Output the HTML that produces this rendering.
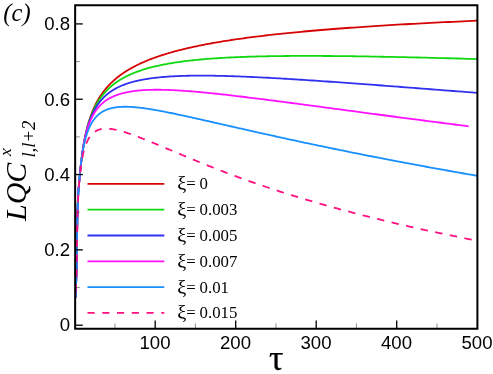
<!DOCTYPE html>
<html><head><meta charset="utf-8"><title>chart</title>
<style>
html,body{margin:0;padding:0;background:#fff;}
body{width:493px;height:374px;overflow:hidden;font-family:"Liberation Sans",sans-serif;}
svg{display:block;}
.t{font-family:"Liberation Sans",sans-serif;font-size:18.6px;fill:#000;}
.s{font-family:"Liberation Serif",serif;fill:#000;}
</style></head><body>
<svg width="493" height="374" viewBox="0 0 493 374">
<rect width="493" height="374" fill="#fff"/>
<g>
<defs><filter id="gs" x="0" y="0" width="493" height="374" filterUnits="userSpaceOnUse" color-interpolation-filters="sRGB"><feColorMatrix type="saturate" values="0"/></filter><clipPath id="cp"><rect x="75.15" y="5.25" width="402.25" height="323.5"/></clipPath></defs>
<g fill="none" stroke-width="1.8" stroke-linejoin="round" clip-path="url(#cp)">
<path d="M75.60,297.53 L75.61,296.82 L75.62,296.15 L75.63,295.51 L75.65,294.90 L75.66,294.32 L75.67,293.77 L75.68,293.25 L75.69,292.75 L75.70,292.28 L75.72,291.82 L75.73,291.39 L75.74,290.98 L75.76,290.59 L75.77,290.21 L75.78,289.85 L75.79,289.51 L75.81,289.17 L75.82,288.85 L75.84,288.54 L75.85,288.23 L75.86,287.94 L75.88,287.64 L75.89,287.35 L75.91,287.07 L75.92,286.78 L75.94,286.50 L75.95,286.21 L75.97,285.92 L75.98,285.63 L76.00,285.32 L76.01,285.02 L76.03,284.70 L76.05,284.37 L76.06,284.03 L76.08,283.68 L76.10,283.31 L76.12,282.93 L76.13,282.53 L76.15,282.11 L76.17,281.67 L76.19,281.20 L76.20,280.72 L76.22,280.21 L76.24,279.67 L76.26,279.11 L76.28,278.52 L76.30,277.89 L76.32,277.24 L76.34,276.55 L76.36,275.83 L76.38,275.07 L76.40,274.27 L76.42,273.44 L76.44,272.56 L76.46,271.64 L76.49,270.68 L76.51,269.68 L76.53,268.63 L76.55,267.53 L76.57,266.38 L76.60,265.18 L76.62,263.93 L76.64,262.63 L76.67,261.27 L76.69,259.85 L76.72,258.38 L76.74,256.85 L76.77,255.28 L76.79,253.65 L76.82,251.99 L76.84,250.29 L76.87,248.55 L76.90,246.79 L76.92,245.01 L76.95,243.20 L76.98,241.38 L77.01,239.55 L77.04,237.72 L77.06,235.88 L77.09,234.05 L77.12,232.23 L77.15,230.41 L77.18,228.62 L77.21,226.85 L77.25,225.10 L77.28,223.38 L77.31,221.70 L77.34,220.06 L77.37,218.47 L77.41,216.92 L77.44,215.43 L77.47,213.99 L77.51,212.60 L77.54,211.26 L77.58,209.96 L77.61,208.71 L77.65,207.51 L77.68,206.34 L77.72,205.22 L77.76,204.14 L77.80,203.10 L77.83,202.09 L77.87,201.12 L77.91,200.18 L77.95,199.28 L77.99,198.40 L78.03,197.56 L78.07,196.74 L78.11,195.95 L78.16,195.19 L78.20,194.45 L78.24,193.73 L78.28,193.04 L78.33,192.36 L78.37,191.70 L78.42,191.06 L78.46,190.43 L78.51,189.81 L78.56,189.21 L78.60,188.62 L78.65,188.04 L78.70,187.46 L78.75,186.89 L78.80,186.33 L78.85,185.77 L78.90,185.21 L78.95,184.65 L79.01,184.09 L79.06,183.53 L79.11,182.96 L79.17,182.39 L79.22,181.81 L79.28,181.22 L79.33,180.63 L79.39,180.03 L79.45,179.42 L79.51,178.81 L79.57,178.19 L79.63,177.56 L79.69,176.93 L79.75,176.29 L79.81,175.64 L79.87,174.99 L79.94,174.34 L80.00,173.68 L80.07,173.02 L80.13,172.35 L80.20,171.68 L80.27,171.00 L80.34,170.33 L80.40,169.64 L80.47,168.96 L80.55,168.27 L80.62,167.59 L80.69,166.89 L80.76,166.20 L80.84,165.51 L80.91,164.81 L80.99,164.11 L81.07,163.42 L81.15,162.72 L81.23,162.02 L81.31,161.32 L81.39,160.62 L81.47,159.93 L81.55,159.23 L81.64,158.53 L81.72,157.84 L81.81,157.15 L81.90,156.45 L81.99,155.77 L82.08,155.08 L82.17,154.39 L82.26,153.71 L82.35,153.03 L82.44,152.35 L82.54,151.68 L82.64,151.00 L82.73,150.33 L82.83,149.67 L82.93,149.00 L83.03,148.34 L83.14,147.67 L83.24,147.01 L83.35,146.36 L83.45,145.70 L83.56,145.05 L83.67,144.40 L83.78,143.75 L83.89,143.10 L84.00,142.46 L84.12,141.82 L84.23,141.18 L84.35,140.54 L84.47,139.91 L84.59,139.27 L84.71,138.64 L84.84,138.01 L84.96,137.39 L85.09,136.76 L85.21,136.14 L85.34,135.52 L85.48,134.90 L85.61,134.29 L85.74,133.67 L85.88,133.06 L86.02,132.45 L86.15,131.85 L86.30,131.24 L86.44,130.64 L86.58,130.04 L86.73,129.44 L86.88,128.84 L87.03,128.25 L87.18,127.65 L87.33,127.06 L87.49,126.47 L87.64,125.89 L87.80,125.30 L87.97,124.72 L88.13,124.14 L88.29,123.56 L88.46,122.98 L88.63,122.41 L88.80,121.84 L88.98,121.27 L89.15,120.70 L89.33,120.13 L89.51,119.57 L89.69,119.00 L89.88,118.44 L90.06,117.88 L90.25,117.33 L90.44,116.77 L90.64,116.22 L90.83,115.67 L91.03,115.12 L91.23,114.57 L91.44,114.03 L91.64,113.48 L91.85,112.94 L92.06,112.40 L92.27,111.86 L92.49,111.33 L92.71,110.79 L92.93,110.26 L93.16,109.73 L93.38,109.20 L93.61,108.68 L93.84,108.15 L94.08,107.63 L94.32,107.11 L94.56,106.59 L94.80,106.07 L95.05,105.55 L95.30,105.04 L95.56,104.53 L95.81,104.02 L96.07,103.51 L96.34,103.00 L96.60,102.50 L96.87,101.99 L97.14,101.49 L97.42,100.99 L97.70,100.49 L97.98,100.00 L98.27,99.50 L98.56,99.01 L98.85,98.52 L99.15,98.03 L99.45,97.54 L99.76,97.05 L100.06,96.57 L100.38,96.09 L100.69,95.61 L101.01,95.13 L101.34,94.65 L101.66,94.17 L101.99,93.70 L102.33,93.22 L102.67,92.75 L103.01,92.28 L103.36,91.82 L103.72,91.35 L104.07,90.88 L104.43,90.42 L104.80,89.96 L105.17,89.50 L105.55,89.04 L105.92,88.58 L106.31,88.13 L106.70,87.68 L107.09,87.22 L107.49,86.77 L107.89,86.32 L108.30,85.88 L108.72,85.43 L109.13,84.99 L109.56,84.54 L109.99,84.10 L110.42,83.66 L110.86,83.22 L111.31,82.79 L111.76,82.35 L112.21,81.92 L112.67,81.48 L113.14,81.05 L113.61,80.62 L114.09,80.19 L114.58,79.77 L115.07,79.34 L115.56,78.92 L116.07,78.50 L116.58,78.08 L117.09,77.66 L117.61,77.24 L118.14,76.82 L118.68,76.41 L119.22,75.99 L119.76,75.58 L120.32,75.17 L120.88,74.76 L121.45,74.35 L122.02,73.94 L122.61,73.54 L123.20,73.13 L123.79,72.73 L124.40,72.33 L125.01,71.93 L125.63,71.53 L126.25,71.13 L126.89,70.73 L127.53,70.34 L128.18,69.94 L128.84,69.55 L129.50,69.16 L130.18,68.77 L130.86,68.38 L131.55,67.99 L132.25,67.61 L132.96,67.22 L133.68,66.84 L134.40,66.46 L135.14,66.08 L135.88,65.70 L136.63,65.32 L137.40,64.94 L138.17,64.56 L138.95,64.19 L139.74,63.81 L140.54,63.44 L141.35,63.07 L142.17,62.70 L143.00,62.33 L143.84,61.96 L144.69,61.60 L145.55,61.23 L146.42,60.87 L147.31,60.50 L148.20,60.14 L149.10,59.78 L150.02,59.42 L150.95,59.07 L151.89,58.71 L152.83,58.35 L153.80,58.00 L154.77,57.65 L155.75,57.29 L156.75,56.94 L157.76,56.59 L158.78,56.24 L159.82,55.90 L160.87,55.55 L161.93,55.21 L163.00,54.86 L164.09,54.52 L165.19,54.18 L166.30,53.84 L167.43,53.50 L168.57,53.16 L169.72,52.83 L170.89,52.49 L172.07,52.16 L173.27,51.82 L174.49,51.49 L175.71,51.16 L176.96,50.83 L178.21,50.50 L179.49,50.18 L180.78,49.85 L182.08,49.52 L183.40,49.20 L184.74,48.88 L186.10,48.56 L187.47,48.24 L188.85,47.92 L190.26,47.60 L191.68,47.28 L193.12,46.96 L194.58,46.65 L196.05,46.34 L197.55,46.02 L199.06,45.71 L200.59,45.40 L202.14,45.09 L203.70,44.78 L205.29,44.48 L206.90,44.17 L208.53,43.87 L210.17,43.56 L211.84,43.26 L213.53,42.96 L215.23,42.66 L216.96,42.36 L218.71,42.06 L220.49,41.77 L222.28,41.47 L224.10,41.17 L225.93,40.88 L227.80,40.59 L229.68,40.30 L231.59,40.01 L233.52,39.72 L235.47,39.43 L237.45,39.14 L239.45,38.85 L241.48,38.57 L243.53,38.28 L245.61,38.00 L247.71,37.72 L249.84,37.44 L252.00,37.16 L254.18,36.88 L256.39,36.60 L258.62,36.33 L260.88,36.05 L263.17,35.78 L265.49,35.50 L267.84,35.23 L270.22,34.96 L272.62,34.69 L275.06,34.42 L277.52,34.15 L280.02,33.88 L282.55,33.62 L285.10,33.35 L287.69,33.09 L290.31,32.82 L292.97,32.56 L295.65,32.30 L298.37,32.04 L301.12,31.78 L303.91,31.52 L306.73,31.27 L309.59,31.01 L312.48,30.75 L315.40,30.50 L318.36,30.25 L321.36,30.00 L324.40,29.74 L327.47,29.49 L330.58,29.24 L333.73,29.00 L336.91,28.75 L340.14,28.50 L343.41,28.26 L346.71,28.01 L350.06,27.77 L353.45,27.53 L356.88,27.29 L360.35,27.05 L363.87,26.81 L367.42,26.57 L371.03,26.33 L374.67,26.10 L378.36,25.86 L382.10,25.63 L385.88,25.39 L389.71,25.16 L393.59,24.93 L397.51,24.70 L401.48,24.47 L405.50,24.24 L409.57,24.01 L413.69,23.78 L417.87,23.56 L422.09,23.33 L426.36,23.11 L430.69,22.89 L435.07,22.66 L439.50,22.44 L443.99,22.22 L448.54,22.00 L453.14,21.78 L457.79,21.57 L462.51,21.35 L467.28,21.13 L472.11,20.92 L477.00,20.71" stroke="#d60404"/>
<path d="M75.60,297.54 L75.61,296.78 L75.62,296.06 L75.63,295.37 L75.65,294.72 L75.66,294.10 L75.67,293.51 L75.68,292.96 L75.69,292.43 L75.70,291.93 L75.72,291.45 L75.73,291.00 L75.74,290.57 L75.76,290.17 L75.77,289.78 L75.78,289.41 L75.79,289.05 L75.81,288.71 L75.82,288.39 L75.84,288.07 L75.85,287.77 L75.86,287.47 L75.88,287.19 L75.89,286.90 L75.91,286.63 L75.92,286.35 L75.94,286.08 L75.95,285.80 L75.97,285.53 L75.98,285.25 L76.00,284.96 L76.01,284.67 L76.03,284.37 L76.05,284.06 L76.06,283.74 L76.08,283.41 L76.10,283.07 L76.12,282.70 L76.13,282.33 L76.15,281.93 L76.17,281.51 L76.19,281.07 L76.20,280.61 L76.22,280.12 L76.24,279.61 L76.26,279.07 L76.28,278.49 L76.30,277.89 L76.32,277.26 L76.34,276.59 L76.36,275.89 L76.38,275.15 L76.40,274.37 L76.42,273.55 L76.44,272.69 L76.46,271.79 L76.49,270.84 L76.51,269.85 L76.53,268.81 L76.55,267.71 L76.57,266.57 L76.60,265.38 L76.62,264.13 L76.64,262.83 L76.67,261.47 L76.69,260.06 L76.72,258.58 L76.74,257.05 L76.77,255.46 L76.79,253.83 L76.82,252.15 L76.84,250.44 L76.87,248.69 L76.90,246.91 L76.92,245.11 L76.95,243.29 L76.98,241.46 L77.01,239.61 L77.04,237.76 L77.06,235.91 L77.09,234.06 L77.12,232.22 L77.15,230.40 L77.18,228.59 L77.21,226.80 L77.25,225.04 L77.28,223.32 L77.31,221.62 L77.34,219.97 L77.37,218.37 L77.41,216.82 L77.44,215.31 L77.47,213.86 L77.51,212.47 L77.54,211.12 L77.58,209.82 L77.61,208.56 L77.65,207.35 L77.68,206.18 L77.72,205.06 L77.76,203.98 L77.80,202.93 L77.83,201.92 L77.87,200.95 L77.91,200.01 L77.95,199.11 L77.99,198.24 L78.03,197.39 L78.07,196.58 L78.11,195.79 L78.16,195.03 L78.20,194.29 L78.24,193.58 L78.28,192.89 L78.33,192.21 L78.37,191.56 L78.42,190.92 L78.46,190.29 L78.51,189.68 L78.56,189.09 L78.60,188.50 L78.65,187.92 L78.70,187.35 L78.75,186.79 L78.80,186.23 L78.85,185.68 L78.90,185.12 L78.95,184.57 L79.01,184.02 L79.06,183.46 L79.11,182.90 L79.17,182.34 L79.22,181.76 L79.28,181.18 L79.33,180.60 L79.39,180.00 L79.45,179.40 L79.51,178.79 L79.57,178.17 L79.63,177.55 L79.69,176.93 L79.75,176.29 L79.81,175.65 L79.87,175.01 L79.94,174.36 L80.00,173.71 L80.07,173.05 L80.13,172.39 L80.20,171.72 L80.27,171.06 L80.34,170.38 L80.40,169.71 L80.47,169.03 L80.55,168.35 L80.62,167.66 L80.69,166.98 L80.76,166.29 L80.84,165.60 L80.91,164.91 L80.99,164.22 L81.07,163.53 L81.15,162.84 L81.23,162.15 L81.31,161.45 L81.39,160.76 L81.47,160.07 L81.55,159.38 L81.64,158.69 L81.72,158.00 L81.81,157.31 L81.90,156.63 L81.99,155.94 L82.08,155.26 L82.17,154.58 L82.26,153.91 L82.35,153.23 L82.44,152.56 L82.54,151.89 L82.64,151.22 L82.73,150.56 L82.83,149.90 L82.93,149.24 L83.03,148.58 L83.14,147.93 L83.24,147.27 L83.35,146.62 L83.45,145.98 L83.56,145.33 L83.67,144.69 L83.78,144.05 L83.89,143.41 L84.00,142.77 L84.12,142.14 L84.23,141.51 L84.35,140.88 L84.47,140.25 L84.59,139.62 L84.71,139.00 L84.84,138.38 L84.96,137.77 L85.09,137.15 L85.21,136.54 L85.34,135.93 L85.48,135.32 L85.61,134.71 L85.74,134.11 L85.88,133.51 L86.02,132.91 L86.15,132.31 L86.30,131.72 L86.44,131.13 L86.58,130.54 L86.73,129.95 L86.88,129.37 L87.03,128.78 L87.18,128.20 L87.33,127.63 L87.49,127.05 L87.64,126.48 L87.80,125.91 L87.97,125.34 L88.13,124.77 L88.29,124.21 L88.46,123.65 L88.63,123.09 L88.80,122.53 L88.98,121.98 L89.15,121.42 L89.33,120.87 L89.51,120.33 L89.69,119.78 L89.88,119.24 L90.06,118.70 L90.25,118.16 L90.44,117.62 L90.64,117.09 L90.83,116.56 L91.03,116.03 L91.23,115.50 L91.44,114.98 L91.64,114.45 L91.85,113.93 L92.06,113.42 L92.27,112.90 L92.49,112.39 L92.71,111.88 L92.93,111.37 L93.16,110.86 L93.38,110.36 L93.61,109.86 L93.84,109.36 L94.08,108.86 L94.32,108.37 L94.56,107.87 L94.80,107.38 L95.05,106.89 L95.30,106.41 L95.56,105.93 L95.81,105.44 L96.07,104.97 L96.34,104.49 L96.60,104.01 L96.87,103.54 L97.14,103.07 L97.42,102.61 L97.70,102.14 L97.98,101.68 L98.27,101.22 L98.56,100.76 L98.85,100.30 L99.15,99.85 L99.45,99.40 L99.76,98.95 L100.06,98.50 L100.38,98.06 L100.69,97.61 L101.01,97.17 L101.34,96.74 L101.66,96.30 L101.99,95.87 L102.33,95.44 L102.67,95.01 L103.01,94.58 L103.36,94.16 L103.72,93.73 L104.07,93.31 L104.43,92.90 L104.80,92.48 L105.17,92.07 L105.55,91.66 L105.92,91.25 L106.31,90.84 L106.70,90.44 L107.09,90.04 L107.49,89.64 L107.89,89.24 L108.30,88.84 L108.72,88.45 L109.13,88.06 L109.56,87.67 L109.99,87.28 L110.42,86.90 L110.86,86.52 L111.31,86.14 L111.76,85.76 L112.21,85.39 L112.67,85.01 L113.14,84.64 L113.61,84.28 L114.09,83.91 L114.58,83.55 L115.07,83.18 L115.56,82.82 L116.07,82.47 L116.58,82.11 L117.09,81.76 L117.61,81.41 L118.14,81.06 L118.68,80.71 L119.22,80.37 L119.76,80.03 L120.32,79.69 L120.88,79.35 L121.45,79.02 L122.02,78.68 L122.61,78.35 L123.20,78.03 L123.79,77.70 L124.40,77.37 L125.01,77.05 L125.63,76.73 L126.25,76.42 L126.89,76.10 L127.53,75.79 L128.18,75.48 L128.84,75.17 L129.50,74.86 L130.18,74.56 L130.86,74.26 L131.55,73.96 L132.25,73.66 L132.96,73.36 L133.68,73.07 L134.40,72.78 L135.14,72.49 L135.88,72.20 L136.63,71.92 L137.40,71.64 L138.17,71.36 L138.95,71.08 L139.74,70.81 L140.54,70.53 L141.35,70.26 L142.17,69.99 L143.00,69.73 L143.84,69.47 L144.69,69.20 L145.55,68.94 L146.42,68.69 L147.31,68.43 L148.20,68.18 L149.10,67.93 L150.02,67.68 L150.95,67.44 L151.89,67.20 L152.83,66.96 L153.80,66.72 L154.77,66.48 L155.75,66.25 L156.75,66.02 L157.76,65.79 L158.78,65.57 L159.82,65.34 L160.87,65.12 L161.93,64.90 L163.00,64.69 L164.09,64.47 L165.19,64.26 L166.30,64.05 L167.43,63.85 L168.57,63.64 L169.72,63.44 L170.89,63.24 L172.07,63.05 L173.27,62.85 L174.49,62.66 L175.71,62.47 L176.96,62.29 L178.21,62.10 L179.49,61.92 L180.78,61.74 L182.08,61.57 L183.40,61.39 L184.74,61.22 L186.10,61.05 L187.47,60.89 L188.85,60.73 L190.26,60.56 L191.68,60.41 L193.12,60.25 L194.58,60.10 L196.05,59.95 L197.55,59.80 L199.06,59.66 L200.59,59.51 L202.14,59.37 L203.70,59.24 L205.29,59.10 L206.90,58.97 L208.53,58.84 L210.17,58.72 L211.84,58.59 L213.53,58.47 L215.23,58.35 L216.96,58.24 L218.71,58.12 L220.49,58.01 L222.28,57.91 L224.10,57.80 L225.93,57.70 L227.80,57.60 L229.68,57.51 L231.59,57.41 L233.52,57.32 L235.47,57.23 L237.45,57.15 L239.45,57.07 L241.48,56.99 L243.53,56.91 L245.61,56.84 L247.71,56.76 L249.84,56.70 L252.00,56.63 L254.18,56.57 L256.39,56.51 L258.62,56.45 L260.88,56.40 L263.17,56.35 L265.49,56.30 L267.84,56.25 L270.22,56.21 L272.62,56.17 L275.06,56.13 L277.52,56.10 L280.02,56.07 L282.55,56.04 L285.10,56.02 L287.69,55.99 L290.31,55.97 L292.97,55.96 L295.65,55.94 L298.37,55.93 L301.12,55.93 L303.91,55.92 L306.73,55.92 L309.59,55.92 L312.48,55.93 L315.40,55.94 L318.36,55.95 L321.36,55.96 L324.40,55.98 L327.47,56.00 L330.58,56.02 L333.73,56.04 L336.91,56.07 L340.14,56.11 L343.41,56.14 L346.71,56.18 L350.06,56.22 L353.45,56.26 L356.88,56.31 L360.35,56.36 L363.87,56.41 L367.42,56.47 L371.03,56.53 L374.67,56.59 L378.36,56.66 L382.10,56.73 L385.88,56.80 L389.71,56.88 L393.59,56.96 L397.51,57.04 L401.48,57.12 L405.50,57.21 L409.57,57.30 L413.69,57.40 L417.87,57.49 L422.09,57.60 L426.36,57.70 L430.69,57.81 L435.07,57.92 L439.50,58.03 L443.99,58.15 L448.54,58.27 L453.14,58.39 L457.79,58.52 L462.51,58.65 L467.28,58.78 L472.11,58.92 L477.00,59.06" stroke="#10d810"/>
<path d="M75.60,297.53 L75.61,296.81 L75.62,296.12 L75.63,295.46 L75.65,294.84 L75.66,294.25 L75.67,293.69 L75.68,293.15 L75.69,292.64 L75.70,292.16 L75.72,291.70 L75.73,291.26 L75.74,290.85 L75.76,290.45 L75.77,290.07 L75.78,289.71 L75.79,289.36 L75.81,289.02 L75.82,288.70 L75.84,288.38 L75.85,288.08 L75.86,287.78 L75.88,287.49 L75.89,287.20 L75.91,286.92 L75.92,286.64 L75.94,286.36 L75.95,286.07 L75.97,285.79 L75.98,285.50 L76.00,285.20 L76.01,284.90 L76.03,284.59 L76.05,284.27 L76.06,283.94 L76.08,283.59 L76.10,283.23 L76.12,282.85 L76.13,282.46 L76.15,282.05 L76.17,281.61 L76.19,281.16 L76.20,280.68 L76.22,280.18 L76.24,279.65 L76.26,279.09 L76.28,278.51 L76.30,277.89 L76.32,277.24 L76.34,276.56 L76.36,275.85 L76.38,275.09 L76.40,274.30 L76.42,273.47 L76.44,272.60 L76.46,271.69 L76.49,270.74 L76.51,269.73 L76.53,268.69 L76.55,267.59 L76.57,266.44 L76.60,265.25 L76.62,264.00 L76.64,262.69 L76.67,261.34 L76.69,259.92 L76.72,258.45 L76.74,256.92 L76.77,255.34 L76.79,253.71 L76.82,252.04 L76.84,250.34 L76.87,248.60 L76.90,246.83 L76.92,245.04 L76.95,243.23 L76.98,241.41 L77.01,239.57 L77.04,237.73 L77.06,235.89 L77.09,234.06 L77.12,232.23 L77.15,230.41 L77.18,228.61 L77.21,226.83 L77.25,225.08 L77.28,223.36 L77.31,221.68 L77.34,220.04 L77.37,218.44 L77.41,216.89 L77.44,215.39 L77.47,213.95 L77.51,212.56 L77.54,211.21 L77.58,209.91 L77.61,208.66 L77.65,207.45 L77.68,206.29 L77.72,205.17 L77.76,204.09 L77.80,203.04 L77.83,202.04 L77.87,201.06 L77.91,200.13 L77.95,199.22 L77.99,198.35 L78.03,197.51 L78.07,196.69 L78.11,195.90 L78.16,195.14 L78.20,194.40 L78.24,193.68 L78.28,192.99 L78.33,192.31 L78.37,191.65 L78.42,191.01 L78.46,190.38 L78.51,189.77 L78.56,189.17 L78.60,188.58 L78.65,188.00 L78.70,187.42 L78.75,186.86 L78.80,186.29 L78.85,185.73 L78.90,185.18 L78.95,184.62 L79.01,184.06 L79.06,183.50 L79.11,182.93 L79.17,182.36 L79.22,181.79 L79.28,181.20 L79.33,180.61 L79.39,180.01 L79.45,179.40 L79.51,178.79 L79.57,178.17 L79.63,177.54 L79.69,176.91 L79.75,176.27 L79.81,175.63 L79.87,174.98 L79.94,174.32 L80.00,173.67 L80.07,173.01 L80.13,172.34 L80.20,171.67 L80.27,171.00 L80.34,170.32 L80.40,169.64 L80.47,168.96 L80.55,168.27 L80.62,167.59 L80.69,166.90 L80.76,166.21 L80.84,165.52 L80.91,164.83 L80.99,164.14 L81.07,163.44 L81.15,162.75 L81.23,162.06 L81.31,161.36 L81.39,160.67 L81.47,159.98 L81.55,159.29 L81.64,158.60 L81.72,157.92 L81.81,157.23 L81.90,156.55 L81.99,155.87 L82.08,155.19 L82.17,154.52 L82.26,153.84 L82.35,153.18 L82.44,152.51 L82.54,151.85 L82.64,151.19 L82.73,150.53 L82.83,149.88 L82.93,149.22 L83.03,148.58 L83.14,147.93 L83.24,147.29 L83.35,146.65 L83.45,146.01 L83.56,145.38 L83.67,144.74 L83.78,144.11 L83.89,143.49 L84.00,142.87 L84.12,142.25 L84.23,141.63 L84.35,141.01 L84.47,140.40 L84.59,139.79 L84.71,139.19 L84.84,138.59 L84.96,137.99 L85.09,137.39 L85.21,136.79 L85.34,136.20 L85.48,135.61 L85.61,135.03 L85.74,134.45 L85.88,133.87 L86.02,133.29 L86.15,132.71 L86.30,132.14 L86.44,131.57 L86.58,131.01 L86.73,130.45 L86.88,129.89 L87.03,129.33 L87.18,128.77 L87.33,128.22 L87.49,127.67 L87.64,127.13 L87.80,126.59 L87.97,126.05 L88.13,125.51 L88.29,124.97 L88.46,124.44 L88.63,123.91 L88.80,123.39 L88.98,122.87 L89.15,122.35 L89.33,121.83 L89.51,121.31 L89.69,120.80 L89.88,120.29 L90.06,119.79 L90.25,119.29 L90.44,118.79 L90.64,118.29 L90.83,117.79 L91.03,117.30 L91.23,116.81 L91.44,116.33 L91.64,115.85 L91.85,115.37 L92.06,114.89 L92.27,114.42 L92.49,113.94 L92.71,113.48 L92.93,113.01 L93.16,112.55 L93.38,112.09 L93.61,111.63 L93.84,111.18 L94.08,110.73 L94.32,110.28 L94.56,109.83 L94.80,109.39 L95.05,108.95 L95.30,108.51 L95.56,108.08 L95.81,107.65 L96.07,107.22 L96.34,106.79 L96.60,106.37 L96.87,105.95 L97.14,105.53 L97.42,105.12 L97.70,104.71 L97.98,104.30 L98.27,103.90 L98.56,103.49 L98.85,103.09 L99.15,102.70 L99.45,102.30 L99.76,101.91 L100.06,101.52 L100.38,101.14 L100.69,100.76 L101.01,100.38 L101.34,100.00 L101.66,99.63 L101.99,99.25 L102.33,98.89 L102.67,98.52 L103.01,98.16 L103.36,97.80 L103.72,97.44 L104.07,97.09 L104.43,96.74 L104.80,96.39 L105.17,96.05 L105.55,95.70 L105.92,95.36 L106.31,95.03 L106.70,94.69 L107.09,94.36 L107.49,94.03 L107.89,93.71 L108.30,93.39 L108.72,93.07 L109.13,92.75 L109.56,92.44 L109.99,92.13 L110.42,91.82 L110.86,91.51 L111.31,91.21 L111.76,90.91 L112.21,90.62 L112.67,90.32 L113.14,90.03 L113.61,89.75 L114.09,89.46 L114.58,89.18 L115.07,88.90 L115.56,88.62 L116.07,88.35 L116.58,88.08 L117.09,87.81 L117.61,87.55 L118.14,87.28 L118.68,87.03 L119.22,86.77 L119.76,86.52 L120.32,86.27 L120.88,86.02 L121.45,85.77 L122.02,85.53 L122.61,85.29 L123.20,85.06 L123.79,84.82 L124.40,84.59 L125.01,84.37 L125.63,84.14 L126.25,83.92 L126.89,83.70 L127.53,83.49 L128.18,83.27 L128.84,83.06 L129.50,82.85 L130.18,82.65 L130.86,82.45 L131.55,82.25 L132.25,82.05 L132.96,81.86 L133.68,81.67 L134.40,81.48 L135.14,81.30 L135.88,81.12 L136.63,80.94 L137.40,80.76 L138.17,80.59 L138.95,80.42 L139.74,80.25 L140.54,80.09 L141.35,79.93 L142.17,79.77 L143.00,79.62 L143.84,79.46 L144.69,79.31 L145.55,79.17 L146.42,79.02 L147.31,78.88 L148.20,78.74 L149.10,78.61 L150.02,78.47 L150.95,78.34 L151.89,78.22 L152.83,78.09 L153.80,77.97 L154.77,77.86 L155.75,77.74 L156.75,77.63 L157.76,77.52 L158.78,77.41 L159.82,77.31 L160.87,77.21 L161.93,77.11 L163.00,77.01 L164.09,76.92 L165.19,76.83 L166.30,76.75 L167.43,76.67 L168.57,76.59 L169.72,76.51 L170.89,76.44 L172.07,76.37 L173.27,76.30 L174.49,76.23 L175.71,76.17 L176.96,76.11 L178.21,76.06 L179.49,76.01 L180.78,75.96 L182.08,75.91 L183.40,75.87 L184.74,75.83 L186.10,75.80 L187.47,75.76 L188.85,75.74 L190.26,75.71 L191.68,75.69 L193.12,75.67 L194.58,75.65 L196.05,75.64 L197.55,75.63 L199.06,75.62 L200.59,75.62 L202.14,75.62 L203.70,75.63 L205.29,75.63 L206.90,75.65 L208.53,75.66 L210.17,75.68 L211.84,75.70 L213.53,75.72 L215.23,75.75 L216.96,75.79 L218.71,75.82 L220.49,75.86 L222.28,75.90 L224.10,75.95 L225.93,76.00 L227.80,76.05 L229.68,76.11 L231.59,76.17 L233.52,76.23 L235.47,76.30 L237.45,76.37 L239.45,76.45 L241.48,76.53 L243.53,76.61 L245.61,76.70 L247.71,76.79 L249.84,76.88 L252.00,76.98 L254.18,77.08 L256.39,77.19 L258.62,77.30 L260.88,77.41 L263.17,77.53 L265.49,77.65 L267.84,77.77 L270.22,77.90 L272.62,78.03 L275.06,78.17 L277.52,78.31 L280.02,78.45 L282.55,78.60 L285.10,78.75 L287.69,78.91 L290.31,79.07 L292.97,79.23 L295.65,79.40 L298.37,79.57 L301.12,79.75 L303.91,79.93 L306.73,80.11 L309.59,80.30 L312.48,80.49 L315.40,80.69 L318.36,80.89 L321.36,81.10 L324.40,81.31 L327.47,81.52 L330.58,81.74 L333.73,81.96 L336.91,82.18 L340.14,82.41 L343.41,82.65 L346.71,82.89 L350.06,83.13 L353.45,83.38 L356.88,83.63 L360.35,83.88 L363.87,84.14 L367.42,84.41 L371.03,84.68 L374.67,84.95 L378.36,85.23 L382.10,85.51 L385.88,85.80 L389.71,86.09 L393.59,86.38 L397.51,86.68 L401.48,86.99 L405.50,87.29 L409.57,87.61 L413.69,87.93 L417.87,88.25 L422.09,88.57 L426.36,88.91 L430.69,89.24 L435.07,89.58 L439.50,89.93 L443.99,90.28 L448.54,90.63 L453.14,90.99 L457.79,91.35 L462.51,91.72 L467.28,92.10 L472.11,92.47 L477.00,92.86" stroke="#3030f0"/>
<path d="M75.60,297.49 L75.61,296.95 L75.62,296.44 L75.63,295.94 L75.64,295.46 L75.66,295.01 L75.67,294.57 L75.68,294.15 L75.69,293.74 L75.70,293.35 L75.72,292.97 L75.73,292.61 L75.74,292.25 L75.75,291.91 L75.77,291.57 L75.78,291.24 L75.79,290.92 L75.81,290.61 L75.82,290.30 L75.83,289.99 L75.85,289.68 L75.86,289.38 L75.88,289.07 L75.89,288.76 L75.91,288.45 L75.92,288.14 L75.94,287.82 L75.95,287.50 L75.97,287.17 L75.98,286.83 L76.00,286.48 L76.01,286.12 L76.03,285.75 L76.05,285.37 L76.06,284.97 L76.08,284.56 L76.10,284.13 L76.11,283.68 L76.13,283.22 L76.15,282.74 L76.17,282.23 L76.18,281.70 L76.20,281.15 L76.22,280.58 L76.24,279.98 L76.26,279.36 L76.28,278.70 L76.30,278.02 L76.32,277.31 L76.34,276.56 L76.36,275.79 L76.38,274.98 L76.40,274.14 L76.42,273.26 L76.44,272.34 L76.46,271.39 L76.48,270.40 L76.50,269.37 L76.52,268.29 L76.55,267.18 L76.57,266.02 L76.59,264.81 L76.62,263.56 L76.64,262.26 L76.66,260.92 L76.69,259.52 L76.71,258.08 L76.74,256.59 L76.76,255.05 L76.79,253.47 L76.81,251.85 L76.84,250.20 L76.86,248.51 L76.89,246.81 L76.92,245.08 L76.95,243.33 L76.97,241.57 L77.00,239.80 L77.03,238.02 L77.06,236.25 L77.09,234.47 L77.12,232.70 L77.15,230.94 L77.18,229.20 L77.21,227.47 L77.24,225.77 L77.27,224.10 L77.30,222.46 L77.33,220.85 L77.36,219.29 L77.40,217.77 L77.43,216.30 L77.46,214.87 L77.50,213.50 L77.53,212.17 L77.56,210.88 L77.60,209.64 L77.64,208.44 L77.67,207.28 L77.71,206.16 L77.74,205.07 L77.78,204.03 L77.82,203.01 L77.86,202.03 L77.90,201.09 L77.94,200.17 L77.98,199.29 L78.02,198.43 L78.06,197.60 L78.10,196.79 L78.14,196.01 L78.18,195.25 L78.22,194.51 L78.27,193.79 L78.31,193.09 L78.36,192.41 L78.40,191.74 L78.45,191.09 L78.49,190.45 L78.54,189.83 L78.59,189.21 L78.63,188.61 L78.68,188.01 L78.73,187.41 L78.78,186.83 L78.83,186.24 L78.88,185.66 L78.93,185.08 L78.98,184.50 L79.04,183.92 L79.09,183.34 L79.14,182.75 L79.20,182.16 L79.25,181.55 L79.31,180.95 L79.36,180.33 L79.42,179.71 L79.48,179.08 L79.54,178.45 L79.60,177.81 L79.66,177.17 L79.72,176.52 L79.78,175.87 L79.84,175.21 L79.91,174.55 L79.97,173.88 L80.03,173.21 L80.10,172.54 L80.17,171.87 L80.23,171.19 L80.30,170.51 L80.37,169.82 L80.44,169.14 L80.51,168.45 L80.58,167.76 L80.65,167.07 L80.73,166.38 L80.80,165.69 L80.87,165.00 L80.95,164.31 L81.03,163.62 L81.10,162.93 L81.18,162.24 L81.26,161.55 L81.34,160.86 L81.42,160.17 L81.51,159.49 L81.59,158.80 L81.67,158.12 L81.76,157.45 L81.85,156.77 L81.93,156.10 L82.02,155.43 L82.11,154.77 L82.20,154.11 L82.30,153.45 L82.39,152.79 L82.48,152.14 L82.58,151.50 L82.68,150.85 L82.77,150.21 L82.87,149.58 L82.97,148.94 L83.07,148.31 L83.18,147.69 L83.28,147.07 L83.39,146.45 L83.49,145.83 L83.60,145.22 L83.71,144.61 L83.82,144.01 L83.93,143.41 L84.04,142.81 L84.16,142.22 L84.28,141.63 L84.39,141.04 L84.51,140.46 L84.63,139.88 L84.75,139.30 L84.88,138.73 L85.00,138.16 L85.13,137.59 L85.26,137.03 L85.39,136.47 L85.52,135.92 L85.65,135.37 L85.78,134.82 L85.92,134.27 L86.06,133.73 L86.20,133.19 L86.34,132.66 L86.48,132.13 L86.62,131.60 L86.77,131.08 L86.92,130.56 L87.07,130.04 L87.22,129.52 L87.37,129.01 L87.53,128.51 L87.69,128.00 L87.85,127.50 L88.01,127.01 L88.17,126.51 L88.33,126.02 L88.50,125.54 L88.67,125.05 L88.84,124.58 L89.02,124.10 L89.19,123.63 L89.37,123.16 L89.55,122.69 L89.73,122.23 L89.92,121.77 L90.10,121.31 L90.29,120.86 L90.48,120.41 L90.68,119.97 L90.87,119.53 L91.07,119.09 L91.27,118.65 L91.47,118.22 L91.68,117.79 L91.89,117.36 L92.10,116.94 L92.31,116.52 L92.53,116.11 L92.75,115.70 L92.97,115.29 L93.19,114.88 L93.42,114.48 L93.65,114.08 L93.88,113.69 L94.12,113.29 L94.35,112.91 L94.60,112.52 L94.84,112.14 L95.09,111.76 L95.34,111.38 L95.59,111.01 L95.85,110.64 L96.10,110.28 L96.37,109.92 L96.63,109.56 L96.90,109.20 L97.17,108.85 L97.45,108.50 L97.73,108.15 L98.01,107.81 L98.30,107.47 L98.59,107.14 L98.88,106.80 L99.18,106.47 L99.48,106.15 L99.78,105.82 L100.09,105.50 L100.40,105.19 L100.71,104.87 L101.03,104.56 L101.36,104.26 L101.68,103.95 L102.01,103.65 L102.35,103.36 L102.69,103.06 L103.03,102.77 L103.38,102.48 L103.73,102.20 L104.09,101.92 L104.45,101.64 L104.81,101.37 L105.18,101.10 L105.55,100.83 L105.93,100.56 L106.31,100.30 L106.70,100.04 L107.09,99.79 L107.49,99.53 L107.89,99.28 L108.30,99.04 L108.71,98.80 L109.13,98.56 L109.55,98.32 L109.98,98.09 L110.41,97.86 L110.85,97.63 L111.29,97.40 L111.74,97.18 L112.20,96.97 L112.66,96.75 L113.12,96.54 L113.59,96.33 L114.07,96.13 L114.55,95.93 L115.04,95.73 L115.54,95.53 L116.04,95.34 L116.54,95.15 L117.06,94.96 L117.58,94.78 L118.10,94.60 L118.63,94.42 L119.17,94.25 L119.72,94.08 L120.27,93.91 L120.83,93.74 L121.40,93.58 L121.97,93.42 L122.55,93.27 L123.13,93.12 L123.73,92.97 L124.33,92.82 L124.94,92.68 L125.55,92.54 L126.18,92.40 L126.81,92.27 L127.45,92.14 L128.10,92.01 L128.75,91.89 L129.41,91.77 L130.08,91.65 L130.76,91.54 L131.45,91.43 L132.15,91.32 L132.85,91.22 L133.56,91.12 L134.29,91.02 L135.02,90.93 L135.76,90.84 L136.50,90.75 L137.26,90.67 L138.03,90.59 L138.81,90.52 L139.59,90.44 L140.39,90.37 L141.19,90.31 L142.01,90.25 L142.83,90.19 L143.67,90.13 L144.52,90.08 L145.37,90.03 L146.24,89.99 L147.12,89.95 L148.00,89.91 L148.90,89.88 L149.81,89.85 L150.73,89.82 L151.67,89.80 L152.61,89.78 L153.57,89.77 L154.53,89.76 L155.51,89.75 L156.50,89.75 L157.51,89.75 L158.52,89.75 L159.55,89.76 L160.59,89.77 L161.64,89.79 L162.71,89.81 L163.79,89.83 L164.88,89.86 L165.99,89.89 L167.11,89.93 L168.24,89.96 L169.39,90.01 L170.55,90.05 L171.72,90.11 L172.91,90.16 L174.12,90.22 L175.34,90.28 L176.57,90.35 L177.82,90.42 L179.08,90.50 L180.36,90.58 L181.66,90.66 L182.97,90.75 L184.30,90.84 L185.64,90.93 L187.00,91.03 L188.38,91.14 L189.78,91.25 L191.19,91.36 L192.61,91.47 L194.06,91.60 L195.52,91.72 L197.01,91.85 L198.51,91.98 L200.02,92.12 L201.56,92.26 L203.12,92.41 L204.69,92.56 L206.29,92.72 L207.90,92.88 L209.53,93.04 L211.19,93.21 L212.86,93.38 L214.55,93.56 L216.27,93.74 L218.00,93.92 L219.76,94.12 L221.54,94.31 L223.34,94.51 L225.16,94.71 L227.01,94.92 L228.88,95.13 L230.77,95.35 L232.68,95.57 L234.62,95.80 L236.58,96.03 L238.57,96.27 L240.58,96.51 L242.61,96.75 L244.67,97.00 L246.75,97.26 L248.86,97.52 L251.00,97.78 L253.16,98.05 L255.35,98.32 L257.56,98.60 L259.81,98.88 L262.08,99.17 L264.37,99.46 L266.70,99.76 L269.05,100.06 L271.44,100.37 L273.85,100.68 L276.29,101.00 L278.76,101.32 L281.27,101.64 L283.80,101.97 L286.36,102.31 L288.96,102.65 L291.59,103.00 L294.25,103.35 L296.94,103.70 L299.66,104.06 L302.42,104.43 L305.22,104.80 L308.04,105.18 L310.90,105.56 L313.80,105.94 L316.73,106.33 L319.70,106.73 L322.71,107.13 L325.75,107.54 L328.82,107.95 L331.94,108.37 L335.10,108.79 L338.29,109.21 L341.52,109.65 L344.79,110.08 L348.11,110.53 L351.46,110.97 L354.85,111.43 L358.29,111.89 L361.77,112.35 L365.29,112.82 L368.85,113.29 L372.46,113.77 L376.11,114.26 L379.80,114.75 L383.54,115.24 L387.33,115.74 L391.17,116.25 L395.05,116.76 L398.97,117.28 L402.95,117.80 L406.98,118.33 L411.05,118.86 L415.18,119.40 L419.35,119.95 L423.58,120.50 L427.86,121.05 L432.19,121.61 L436.57,122.18 L441.01,122.75 L445.50,123.33 L450.05,123.91 L454.65,124.50 L459.31,125.10 L464.03,125.70 L468.80,126.30" stroke="#ff10ff"/>
<path d="M75.60,297.50 L75.61,296.89 L75.62,296.31 L75.63,295.76 L75.65,295.23 L75.66,294.73 L75.67,294.24 L75.68,293.78 L75.69,293.34 L75.70,292.92 L75.72,292.52 L75.73,292.13 L75.74,291.76 L75.76,291.40 L75.77,291.05 L75.78,290.71 L75.79,290.39 L75.81,290.07 L75.82,289.76 L75.84,289.45 L75.85,289.15 L75.86,288.85 L75.88,288.56 L75.89,288.26 L75.91,287.96 L75.92,287.67 L75.94,287.36 L75.95,287.06 L75.97,286.75 L75.98,286.43 L76.00,286.10 L76.01,285.76 L76.03,285.42 L76.05,285.05 L76.06,284.68 L76.08,284.29 L76.10,283.89 L76.12,283.46 L76.13,283.02 L76.15,282.56 L76.17,282.08 L76.19,281.57 L76.20,281.04 L76.22,280.49 L76.24,279.90 L76.26,279.29 L76.28,278.66 L76.30,277.99 L76.32,277.29 L76.34,276.55 L76.36,275.78 L76.38,274.98 L76.40,274.14 L76.42,273.26 L76.44,272.34 L76.46,271.38 L76.49,270.38 L76.51,269.33 L76.53,268.24 L76.55,267.11 L76.57,265.92 L76.60,264.69 L76.62,263.41 L76.64,262.08 L76.67,260.69 L76.69,259.25 L76.72,257.76 L76.74,256.21 L76.77,254.62 L76.79,252.99 L76.82,251.31 L76.84,249.61 L76.87,247.87 L76.90,246.11 L76.92,244.34 L76.95,242.55 L76.98,240.75 L77.01,238.94 L77.04,237.14 L77.06,235.34 L77.09,233.56 L77.12,231.78 L77.15,230.03 L77.18,228.30 L77.21,226.59 L77.25,224.92 L77.28,223.29 L77.31,221.70 L77.34,220.16 L77.37,218.67 L77.41,217.23 L77.44,215.86 L77.47,214.54 L77.51,213.27 L77.54,212.06 L77.58,210.90 L77.61,209.78 L77.65,208.70 L77.68,207.67 L77.72,206.67 L77.76,205.71 L77.80,204.78 L77.83,203.88 L77.87,203.01 L77.91,202.16 L77.95,201.33 L77.99,200.52 L78.03,199.73 L78.07,198.95 L78.11,198.18 L78.16,197.42 L78.20,196.67 L78.24,195.91 L78.28,195.16 L78.33,194.42 L78.37,193.67 L78.42,192.93 L78.46,192.19 L78.51,191.45 L78.56,190.71 L78.60,189.98 L78.65,189.25 L78.70,188.52 L78.75,187.79 L78.80,187.07 L78.85,186.35 L78.90,185.63 L78.95,184.91 L79.01,184.20 L79.06,183.49 L79.11,182.78 L79.17,182.07 L79.22,181.37 L79.28,180.66 L79.33,179.97 L79.39,179.27 L79.45,178.58 L79.51,177.89 L79.57,177.20 L79.63,176.51 L79.69,175.83 L79.75,175.15 L79.81,174.47 L79.87,173.80 L79.94,173.12 L80.00,172.45 L80.07,171.79 L80.13,171.12 L80.20,170.46 L80.27,169.80 L80.34,169.15 L80.40,168.50 L80.47,167.85 L80.55,167.20 L80.62,166.55 L80.69,165.91 L80.76,165.27 L80.84,164.64 L80.91,164.01 L80.99,163.38 L81.07,162.75 L81.15,162.13 L81.23,161.50 L81.31,160.89 L81.39,160.27 L81.47,159.66 L81.55,159.05 L81.64,158.44 L81.72,157.84 L81.81,157.24 L81.90,156.64 L81.99,156.05 L82.08,155.46 L82.17,154.87 L82.26,154.28 L82.35,153.70 L82.44,153.12 L82.54,152.55 L82.64,151.98 L82.73,151.41 L82.83,150.84 L82.93,150.28 L83.03,149.72 L83.14,149.16 L83.24,148.61 L83.35,148.06 L83.45,147.51 L83.56,146.97 L83.67,146.43 L83.78,145.89 L83.89,145.36 L84.00,144.83 L84.12,144.30 L84.23,143.78 L84.35,143.26 L84.47,142.74 L84.59,142.23 L84.71,141.72 L84.84,141.21 L84.96,140.71 L85.09,140.21 L85.21,139.71 L85.34,139.22 L85.48,138.73 L85.61,138.24 L85.74,137.76 L85.88,137.28 L86.02,136.81 L86.15,136.33 L86.30,135.86 L86.44,135.40 L86.58,134.94 L86.73,134.48 L86.88,134.02 L87.03,133.57 L87.18,133.12 L87.33,132.68 L87.49,132.24 L87.64,131.80 L87.80,131.36 L87.97,130.93 L88.13,130.51 L88.29,130.08 L88.46,129.66 L88.63,129.25 L88.80,128.83 L88.98,128.42 L89.15,128.02 L89.33,127.61 L89.51,127.22 L89.69,126.82 L89.88,126.43 L90.06,126.04 L90.25,125.66 L90.44,125.28 L90.64,124.90 L90.83,124.53 L91.03,124.16 L91.23,123.79 L91.44,123.43 L91.64,123.07 L91.85,122.72 L92.06,122.36 L92.27,122.02 L92.49,121.67 L92.71,121.33 L92.93,121.00 L93.16,120.66 L93.38,120.33 L93.61,120.01 L93.84,119.69 L94.08,119.37 L94.32,119.06 L94.56,118.75 L94.80,118.44 L95.05,118.14 L95.30,117.84 L95.56,117.54 L95.81,117.25 L96.07,116.96 L96.34,116.68 L96.60,116.40 L96.87,116.12 L97.14,115.85 L97.42,115.58 L97.70,115.32 L97.98,115.06 L98.27,114.80 L98.56,114.55 L98.85,114.30 L99.15,114.06 L99.45,113.82 L99.76,113.58 L100.06,113.34 L100.38,113.12 L100.69,112.89 L101.01,112.67 L101.34,112.45 L101.66,112.24 L101.99,112.03 L102.33,111.82 L102.67,111.62 L103.01,111.42 L103.36,111.23 L103.72,111.04 L104.07,110.85 L104.43,110.67 L104.80,110.49 L105.17,110.32 L105.55,110.15 L105.92,109.98 L106.31,109.82 L106.70,109.66 L107.09,109.51 L107.49,109.36 L107.89,109.22 L108.30,109.08 L108.72,108.94 L109.13,108.80 L109.56,108.68 L109.99,108.55 L110.42,108.43 L110.86,108.31 L111.31,108.20 L111.76,108.09 L112.21,107.99 L112.67,107.89 L113.14,107.79 L113.61,107.70 L114.09,107.61 L114.58,107.53 L115.07,107.45 L115.56,107.38 L116.07,107.30 L116.58,107.24 L117.09,107.18 L117.61,107.12 L118.14,107.06 L118.68,107.01 L119.22,106.97 L119.76,106.93 L120.32,106.89 L120.88,106.86 L121.45,106.83 L122.02,106.81 L122.61,106.79 L123.20,106.77 L123.79,106.76 L124.40,106.75 L125.01,106.75 L125.63,106.75 L126.25,106.76 L126.89,106.77 L127.53,106.78 L128.18,106.80 L128.84,106.82 L129.50,106.85 L130.18,106.89 L130.86,106.92 L131.55,106.96 L132.25,107.01 L132.96,107.06 L133.68,107.11 L134.40,107.17 L135.14,107.23 L135.88,107.30 L136.63,107.37 L137.40,107.45 L138.17,107.53 L138.95,107.62 L139.74,107.71 L140.54,107.80 L141.35,107.90 L142.17,108.00 L143.00,108.11 L143.84,108.22 L144.69,108.34 L145.55,108.46 L146.42,108.59 L147.31,108.72 L148.20,108.86 L149.10,108.99 L150.02,109.14 L150.95,109.29 L151.89,109.44 L152.83,109.60 L153.80,109.76 L154.77,109.93 L155.75,110.10 L156.75,110.28 L157.76,110.46 L158.78,110.65 L159.82,110.84 L160.87,111.03 L161.93,111.23 L163.00,111.44 L164.09,111.65 L165.19,111.86 L166.30,112.08 L167.43,112.30 L168.57,112.53 L169.72,112.76 L170.89,113.00 L172.07,113.25 L173.27,113.49 L174.49,113.74 L175.71,114.00 L176.96,114.26 L178.21,114.53 L179.49,114.80 L180.78,115.08 L182.08,115.36 L183.40,115.64 L184.74,115.93 L186.10,116.23 L187.47,116.53 L188.85,116.83 L190.26,117.14 L191.68,117.46 L193.12,117.78 L194.58,118.10 L196.05,118.43 L197.55,118.77 L199.06,119.11 L200.59,119.45 L202.14,119.80 L203.70,120.15 L205.29,120.51 L206.90,120.88 L208.53,121.24 L210.17,121.62 L211.84,122.00 L213.53,122.38 L215.23,122.77 L216.96,123.16 L218.71,123.56 L220.49,123.97 L222.28,124.38 L224.10,124.79 L225.93,125.21 L227.80,125.63 L229.68,126.06 L231.59,126.50 L233.52,126.93 L235.47,127.38 L237.45,127.83 L239.45,128.28 L241.48,128.74 L243.53,129.21 L245.61,129.68 L247.71,130.15 L249.84,130.63 L252.00,131.12 L254.18,131.61 L256.39,132.10 L258.62,132.60 L260.88,133.11 L263.17,133.62 L265.49,134.14 L267.84,134.66 L270.22,135.18 L272.62,135.72 L275.06,136.25 L277.52,136.80 L280.02,137.34 L282.55,137.90 L285.10,138.45 L287.69,139.02 L290.31,139.59 L292.97,140.16 L295.65,140.74 L298.37,141.32 L301.12,141.91 L303.91,142.51 L306.73,143.11 L309.59,143.71 L312.48,144.33 L315.40,144.94 L318.36,145.56 L321.36,146.19 L324.40,146.82 L327.47,147.46 L330.58,148.10 L333.73,148.75 L336.91,149.41 L340.14,150.07 L343.41,150.73 L346.71,151.40 L350.06,152.08 L353.45,152.76 L356.88,153.45 L360.35,154.14 L363.87,154.83 L367.42,155.54 L371.03,156.25 L374.67,156.96 L378.36,157.68 L382.10,158.40 L385.88,159.14 L389.71,159.87 L393.59,160.61 L397.51,161.36 L401.48,162.11 L405.50,162.87 L409.57,163.63 L413.69,164.40 L417.87,165.18 L422.09,165.96 L426.36,166.75 L430.69,167.54 L435.07,168.33 L439.50,169.14 L443.99,169.95 L448.54,170.76 L453.14,171.58 L457.79,172.41 L462.51,173.24 L467.28,174.07 L472.11,174.92 L477.00,175.76" stroke="#1890ff"/>
<path d="M75.60,297.50 L75.61,296.88 L75.62,296.29 L75.63,295.73 L75.65,295.20 L75.66,294.69 L75.67,294.20 L75.68,293.74 L75.69,293.29 L75.70,292.87 L75.72,292.46 L75.73,292.07 L75.74,291.69 L75.76,291.33 L75.77,290.98 L75.78,290.65 L75.79,290.32 L75.81,290.00 L75.82,289.69 L75.84,289.39 L75.85,289.09 L75.86,288.79 L75.88,288.50 L75.89,288.21 L75.91,287.91 L75.92,287.62 L75.94,287.32 L75.95,287.02 L75.97,286.71 L75.98,286.39 L76.00,286.07 L76.01,285.74 L76.03,285.39 L76.05,285.04 L76.06,284.67 L76.08,284.28 L76.10,283.88 L76.12,283.46 L76.13,283.03 L76.15,282.57 L76.17,282.09 L76.19,281.59 L76.20,281.06 L76.22,280.51 L76.24,279.93 L76.26,279.33 L76.28,278.69 L76.30,278.02 L76.32,277.32 L76.34,276.59 L76.36,275.83 L76.38,275.02 L76.40,274.19 L76.42,273.31 L76.44,272.39 L76.46,271.43 L76.49,270.43 L76.51,269.38 L76.53,268.29 L76.55,267.15 L76.57,265.97 L76.60,264.73 L76.62,263.45 L76.64,262.11 L76.67,260.72 L76.69,259.28 L76.72,257.78 L76.74,256.23 L76.77,254.63 L76.79,252.99 L76.82,251.30 L76.84,249.59 L76.87,247.85 L76.90,246.08 L76.92,244.29 L76.95,242.49 L76.98,240.68 L77.01,238.86 L77.04,237.05 L77.06,235.24 L77.09,233.43 L77.12,231.65 L77.15,229.88 L77.18,228.13 L77.21,226.42 L77.25,224.73 L77.28,223.09 L77.31,221.49 L77.34,219.93 L77.37,218.43 L77.41,216.98 L77.44,215.60 L77.47,214.27 L77.51,212.99 L77.54,211.77 L77.58,210.60 L77.61,209.48 L77.65,208.40 L77.68,207.36 L77.72,206.36 L77.76,205.40 L77.80,204.47 L77.83,203.57 L77.87,202.70 L77.91,201.86 L77.95,201.04 L77.99,200.24 L78.03,199.45 L78.07,198.69 L78.11,197.93 L78.16,197.18 L78.20,196.44 L78.24,195.71 L78.28,194.98 L78.33,194.25 L78.37,193.53 L78.42,192.81 L78.46,192.10 L78.51,191.39 L78.56,190.68 L78.60,189.98 L78.65,189.28 L78.70,188.59 L78.75,187.90 L78.80,187.21 L78.85,186.53 L78.90,185.85 L78.95,185.18 L79.01,184.51 L79.06,183.84 L79.11,183.18 L79.17,182.52 L79.22,181.87 L79.28,181.22 L79.33,180.57 L79.39,179.93 L79.45,179.29 L79.51,178.66 L79.57,178.03 L79.63,177.40 L79.69,176.78 L79.75,176.16 L79.81,175.55 L79.87,174.94 L79.94,174.33 L80.00,173.73 L80.07,173.14 L80.13,172.54 L80.20,171.95 L80.27,171.37 L80.34,170.78 L80.40,170.21 L80.47,169.63 L80.55,169.06 L80.62,168.50 L80.69,167.94 L80.76,167.38 L80.84,166.83 L80.91,166.28 L80.99,165.73 L81.07,165.19 L81.15,164.65 L81.23,164.12 L81.31,163.59 L81.39,163.06 L81.47,162.54 L81.55,162.02 L81.64,161.51 L81.72,161.00 L81.81,160.49 L81.90,159.99 L81.99,159.49 L82.08,158.99 L82.17,158.50 L82.26,158.02 L82.35,157.54 L82.44,157.06 L82.54,156.58 L82.64,156.11 L82.73,155.64 L82.83,155.18 L82.93,154.72 L83.03,154.27 L83.14,153.82 L83.24,153.37 L83.35,152.93 L83.45,152.49 L83.56,152.05 L83.67,151.62 L83.78,151.19 L83.89,150.77 L84.00,150.35 L84.12,149.93 L84.23,149.52 L84.35,149.11 L84.47,148.71 L84.59,148.31 L84.71,147.91 L84.84,147.52 L84.96,147.13 L85.09,146.75 L85.21,146.36 L85.34,145.99 L85.48,145.61 L85.61,145.25 L85.74,144.88 L85.88,144.52 L86.02,144.16 L86.15,143.81 L86.30,143.46 L86.44,143.11 L86.58,142.77 L86.73,142.43 L86.88,142.10 L87.03,141.76 L87.18,141.44 L87.33,141.11 L87.49,140.80 L87.64,140.48 L87.80,140.17 L87.97,139.86 L88.13,139.56 L88.29,139.26 L88.46,138.96 L88.63,138.67 L88.80,138.38 L88.98,138.10 L89.15,137.82 L89.33,137.54 L89.51,137.27 L89.69,137.00 L89.88,136.73 L90.06,136.47 L90.25,136.22 L90.44,135.96 L90.64,135.71 L90.83,135.47 L91.03,135.23 L91.23,134.99 L91.44,134.76 L91.64,134.53 L91.85,134.31 L92.06,134.09 L92.27,133.87 L92.49,133.66 L92.71,133.45 L92.93,133.25 L93.16,133.05 L93.38,132.85 L93.61,132.66 L93.84,132.48 L94.08,132.29 L94.32,132.12 L94.56,131.94 L94.80,131.77 L95.05,131.61 L95.30,131.45 L95.56,131.29 L95.81,131.14 L96.07,130.99 L96.34,130.85 L96.60,130.71 L96.87,130.57 L97.14,130.44 L97.42,130.31 L97.70,130.19 L97.98,130.08 L98.27,129.96 L98.56,129.85 L98.85,129.75 L99.15,129.65 L99.45,129.56 L99.76,129.47 L100.06,129.38 L100.38,129.30 L100.69,129.22 L101.01,129.15 L101.34,129.08 L101.66,129.02 L101.99,128.96 L102.33,128.91 L102.67,128.86 L103.01,128.82 L103.36,128.78 L103.72,128.74 L104.07,128.71 L104.43,128.69 L104.80,128.67 L105.17,128.65 L105.55,128.64 L105.92,128.63 L106.31,128.63 L106.70,128.63 L107.09,128.64 L107.49,128.65 L107.89,128.67 L108.30,128.69 L108.72,128.72 L109.13,128.75 L109.56,128.79 L109.99,128.83 L110.42,128.88 L110.86,128.93 L111.31,128.99 L111.76,129.05 L112.21,129.12 L112.67,129.19 L113.14,129.27 L113.61,129.35 L114.09,129.44 L114.58,129.53 L115.07,129.62 L115.56,129.73 L116.07,129.83 L116.58,129.95 L117.09,130.06 L117.61,130.19 L118.14,130.31 L118.68,130.45 L119.22,130.58 L119.76,130.73 L120.32,130.87 L120.88,131.03 L121.45,131.19 L122.02,131.35 L122.61,131.52 L123.20,131.69 L123.79,131.87 L124.40,132.06 L125.01,132.25 L125.63,132.44 L126.25,132.65 L126.89,132.85 L127.53,133.06 L128.18,133.28 L128.84,133.50 L129.50,133.73 L130.18,133.96 L130.86,134.20 L131.55,134.45 L132.25,134.70 L132.96,134.95 L133.68,135.21 L134.40,135.48 L135.14,135.75 L135.88,136.03 L136.63,136.31 L137.40,136.60 L138.17,136.89 L138.95,137.19 L139.74,137.49 L140.54,137.81 L141.35,138.12 L142.17,138.44 L143.00,138.77 L143.84,139.10 L144.69,139.44 L145.55,139.79 L146.42,140.14 L147.31,140.49 L148.20,140.85 L149.10,141.22 L150.02,141.59 L150.95,141.97 L151.89,142.36 L152.83,142.75 L153.80,143.14 L154.77,143.54 L155.75,143.95 L156.75,144.37 L157.76,144.79 L158.78,145.21 L159.82,145.64 L160.87,146.08 L161.93,146.52 L163.00,146.97 L164.09,147.43 L165.19,147.89 L166.30,148.35 L167.43,148.83 L168.57,149.31 L169.72,149.79 L170.89,150.28 L172.07,150.78 L173.27,151.28 L174.49,151.79 L175.71,152.30 L176.96,152.83 L178.21,153.35 L179.49,153.89 L180.78,154.43 L182.08,154.97 L183.40,155.52 L184.74,156.08 L186.10,156.64 L187.47,157.21 L188.85,157.79 L190.26,158.37 L191.68,158.96 L193.12,159.55 L194.58,160.15 L196.05,160.75 L197.55,161.37 L199.06,161.98 L200.59,162.60 L202.14,163.23 L203.70,163.86 L205.29,164.50 L206.90,165.14 L208.53,165.79 L210.17,166.44 L211.84,167.10 L213.53,167.77 L215.23,168.44 L216.96,169.11 L218.71,169.79 L220.49,170.48 L222.28,171.17 L224.10,171.86 L225.93,172.56 L227.80,173.27 L229.68,173.97 L231.59,174.69 L233.52,175.41 L235.47,176.13 L237.45,176.86 L239.45,177.59 L241.48,178.33 L243.53,179.07 L245.61,179.82 L247.71,180.57 L249.84,181.33 L252.00,182.09 L254.18,182.85 L256.39,183.62 L258.62,184.39 L260.88,185.17 L263.17,185.95 L265.49,186.73 L267.84,187.52 L270.22,188.31 L272.62,189.11 L275.06,189.91 L277.52,190.72 L280.02,191.53 L282.55,192.34 L285.10,193.16 L287.69,193.98 L290.31,194.80 L292.97,195.63 L295.65,196.46 L298.37,197.29 L301.12,198.13 L303.91,198.97 L306.73,199.82 L309.59,200.66 L312.48,201.52 L315.40,202.37 L318.36,203.23 L321.36,204.09 L324.40,204.95 L327.47,205.82 L330.58,206.69 L333.73,207.57 L336.91,208.44 L340.14,209.32 L343.41,210.20 L346.71,211.09 L350.06,211.98 L353.45,212.87 L356.88,213.76 L360.35,214.66 L363.87,215.56 L367.42,216.46 L371.03,217.36 L374.67,218.27 L378.36,219.18 L382.10,220.09 L385.88,221.01 L389.71,221.92 L393.59,222.84 L397.51,223.76 L401.48,224.68 L405.50,225.61 L409.57,226.54 L413.69,227.47 L417.87,228.40 L422.09,229.33 L426.36,230.27 L430.69,231.20 L435.07,232.14 L439.50,233.08 L443.99,234.03 L448.54,234.97 L453.14,235.92 L457.79,236.87 L462.51,237.81 L467.28,238.77 L472.11,239.72 L477.00,240.67" stroke="#ff1080" stroke-dasharray="7.4 7.5" stroke-dashoffset="9.1"/>
</g>
<line x1="87.5" y1="183.9" x2="164.3" y2="183.9" stroke="#d60404" stroke-width="1.8"/>
<line x1="87.5" y1="209.7" x2="164.3" y2="209.7" stroke="#10d810" stroke-width="1.8"/>
<line x1="87.5" y1="235.5" x2="164.3" y2="235.5" stroke="#3030f0" stroke-width="1.8"/>
<line x1="87.5" y1="261.3" x2="164.3" y2="261.3" stroke="#ff10ff" stroke-width="1.8"/>
<line x1="87.5" y1="287.1" x2="164.3" y2="287.1" stroke="#1890ff" stroke-width="1.8"/>
<line x1="87.5" y1="312.8" x2="164.3" y2="312.8" stroke="#ff1080" stroke-width="1.8" stroke-dasharray="7.2 7.55"/>
<g stroke="#000">
<line x1="75.15" y1="325.20" x2="82.8" y2="325.20" stroke-width="1.3"/>
<line x1="75.15" y1="287.54" x2="79.8" y2="287.54" stroke-width="0.6" stroke="#444"/>
<line x1="75.15" y1="249.88" x2="82.8" y2="249.88" stroke-width="1.3"/>
<line x1="75.15" y1="212.22" x2="79.8" y2="212.22" stroke-width="0.6" stroke="#444"/>
<line x1="75.15" y1="174.56" x2="82.8" y2="174.56" stroke-width="1.3"/>
<line x1="75.15" y1="136.90" x2="79.8" y2="136.90" stroke-width="0.6" stroke="#444"/>
<line x1="75.15" y1="99.24" x2="82.8" y2="99.24" stroke-width="1.3"/>
<line x1="75.15" y1="61.58" x2="79.8" y2="61.58" stroke-width="0.6" stroke="#444"/>
<line x1="75.15" y1="23.92" x2="82.8" y2="23.92" stroke-width="1.3"/>
<line x1="114.95" y1="328.75" x2="114.95" y2="323.4" stroke-width="0.6" stroke="#444"/>
<line x1="155.20" y1="328.75" x2="155.20" y2="320.6" stroke-width="1.3"/>
<line x1="195.45" y1="328.75" x2="195.45" y2="323.4" stroke-width="0.6" stroke="#444"/>
<line x1="235.70" y1="328.75" x2="235.70" y2="320.6" stroke-width="1.3"/>
<line x1="275.95" y1="328.75" x2="275.95" y2="323.4" stroke-width="0.6" stroke="#444"/>
<line x1="316.20" y1="328.75" x2="316.20" y2="320.6" stroke-width="1.3"/>
<line x1="356.45" y1="328.75" x2="356.45" y2="323.4" stroke-width="0.6" stroke="#444"/>
<line x1="396.70" y1="328.75" x2="396.70" y2="320.6" stroke-width="1.3"/>
<line x1="436.95" y1="328.75" x2="436.95" y2="323.4" stroke-width="0.6" stroke="#444"/>
</g>
<rect x="75.15" y="5.25" width="402.25" height="323.5" fill="none" stroke="#000" stroke-width="2.0"/>
<g filter="url(#gs)">
<text class="s" transform="translate(177.3,189.4) scale(1.22,1.08)" font-size="16.6">ξ</text>
<text class="s" x="186.3" y="189.4" font-size="16.8">=</text>
<text class="s" x="199.6" y="189.4" font-size="16.8">0</text>
<text class="s" transform="translate(177.3,215.2) scale(1.22,1.08)" font-size="16.6">ξ</text>
<text class="s" x="186.3" y="215.2" font-size="16.8">=</text>
<text class="s" x="199.6" y="215.2" font-size="16.8">0.003</text>
<text class="s" transform="translate(177.3,241.0) scale(1.22,1.08)" font-size="16.6">ξ</text>
<text class="s" x="186.3" y="241.0" font-size="16.8">=</text>
<text class="s" x="199.6" y="241.0" font-size="16.8">0.005</text>
<text class="s" transform="translate(177.3,266.8) scale(1.22,1.08)" font-size="16.6">ξ</text>
<text class="s" x="186.3" y="266.8" font-size="16.8">=</text>
<text class="s" x="199.6" y="266.8" font-size="16.8">0.007</text>
<text class="s" transform="translate(177.3,292.6) scale(1.22,1.08)" font-size="16.6">ξ</text>
<text class="s" x="186.3" y="292.6" font-size="16.8">=</text>
<text class="s" x="199.6" y="292.6" font-size="16.8">0.01</text>
<text class="s" transform="translate(177.3,318.3) scale(1.22,1.08)" font-size="16.6">ξ</text>
<text class="s" x="186.3" y="318.3" font-size="16.8">=</text>
<text class="s" x="199.6" y="318.3" font-size="16.8">0.015</text>
<text class="t" x="70.1" y="331.2" text-anchor="end">0</text>
<text class="t" x="70.1" y="256.2" text-anchor="end">0.2</text>
<text class="t" x="70.1" y="180.9" text-anchor="end">0.4</text>
<text class="t" x="70.1" y="105.5" text-anchor="end">0.6</text>
<text class="t" x="70.1" y="30.2" text-anchor="end">0.8</text>
<text class="t" x="155.0" y="349.0" text-anchor="middle">100</text>
<text class="t" x="235.5" y="349.0" text-anchor="middle">200</text>
<text class="t" x="316.0" y="349.0" text-anchor="middle">300</text>
<text class="t" x="396.5" y="349.0" text-anchor="middle">400</text>
<text class="t" x="477.0" y="349.0" text-anchor="middle">500</text>
<text class="s" x="3.3" y="21.1" font-size="24.6" font-style="italic">(c)</text>
<text class="s" x="269" y="369.6" font-size="36" stroke="#000" stroke-width="0.25">τ</text>
<g transform="translate(26.4,221) rotate(-90)"><text class="s" x="0" y="0" font-size="30" font-style="italic">LQC</text></g>
<g transform="translate(11.4,155.9) rotate(-90)"><text class="s" x="0" y="0" font-size="17.5" font-style="italic">x</text></g>
<g transform="translate(35.3,157.6) rotate(-90)"><text class="s" x="0" y="0" font-size="18.7" font-style="italic">l,l+2</text></g>
</g></g></svg></body></html>
